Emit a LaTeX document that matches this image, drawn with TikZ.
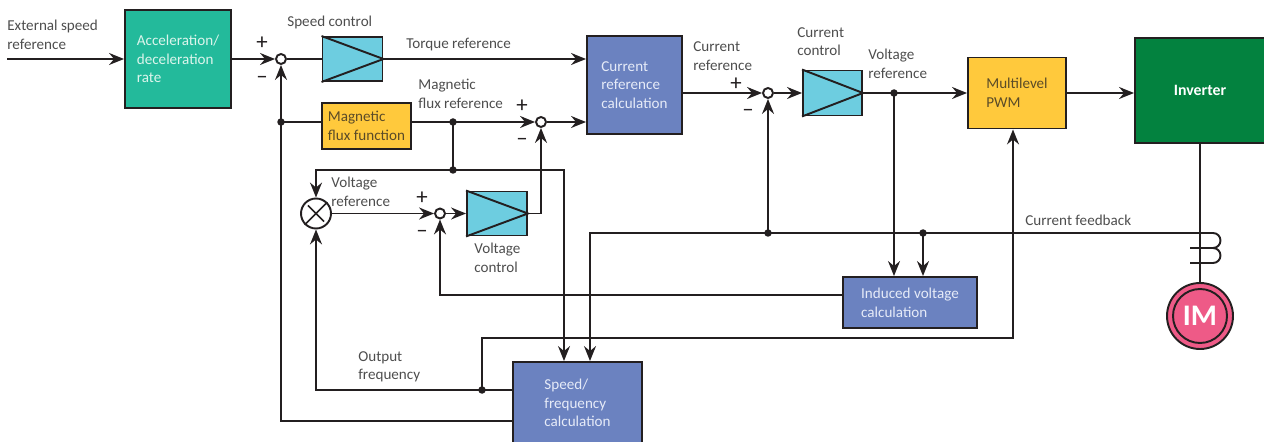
\documentclass[tikz,border=0pt]{standalone}
\usepackage{fontspec}
\setmainfont{Carlito}
\usetikzlibrary{arrows.meta,positioning,shapes}
\definecolor{accgreen}{RGB}{35,186,155}
\definecolor{acctext}{RGB}{220,245,236}
\definecolor{ctrlcyan}{RGB}{109,205,224}
\definecolor{fluxyellow}{RGB}{255,201,60}
\definecolor{fluxtext}{RGB}{90,75,40}
\definecolor{calcblue}{RGB}{107,130,192}
\definecolor{calctext}{RGB}{230,235,248}
\definecolor{invgreen}{RGB}{3,130,63}
\definecolor{impink}{RGB}{238,90,135}
\definecolor{wire}{RGB}{35,31,32}
\definecolor{labelgray}{RGB}{77,77,77}

\begin{document}
\begin{tikzpicture}[
  every node/.style={font=\fontsize{8.6}{10.6}\selectfont},
  line/.style={draw=wire,line width=1.1pt},
  arr/.style={line,-{Stealth[length=8.5pt,width=6.8pt,inset=2.8pt]}},
  blk/.style={draw=wire,line width=1.1pt,rectangle,align=left,inner sep=0pt},
  accbox/.style={blk,fill=accgreen,text=acctext},
  ctrlbox/.style={blk,fill=ctrlcyan,minimum width=1.2cm,minimum height=0.88cm},
  fluxbox/.style={blk,fill=fluxyellow,text=fluxtext},
  calcbox/.style={blk,fill=calcblue,text=calctext},
  sum/.style={circle,draw=wire,line width=1.1pt,fill=white,minimum size=0.2cm,inner sep=0pt},
  dot/.style={circle,fill=wire,minimum size=0.15cm,inner sep=0pt},
  lab/.style={text=labelgray,align=left,inner sep=0pt,anchor=west},
  sgn/.style={text=wire,inner sep=0pt,font=\fontsize{13}{13}\selectfont}
]
\useasboundingbox (0,0) rectangle (25.28,-8.84);

% blocks
\node[accbox,minimum width=2.12cm,minimum height=1.96cm] (acc) at (3.56,-1.18) {Acceleration/\\deceleration\\rate};
\node[ctrlbox] (spd) at (7.05,-1.18) {};
\node[fluxbox,minimum width=1.78cm,minimum height=0.92cm] (flux) at (7.33,-2.52) {Magnetic\\flux function};
\node[calcbox,minimum width=1.9cm,minimum height=1.96cm] (crc) at (12.69,-1.70) {Current\\reference\\calculation};
\node[ctrlbox] (vc) at (9.94,-4.27) {};
\node[ctrlbox,minimum width=1.18cm,minimum height=0.9cm] (cc) at (16.65,-1.86) {};
\node[fluxbox,minimum width=1.96cm,minimum height=1.42cm] (pwm) at (20.34,-1.86) {Multilevel\\PWM};
\node[blk,fill=invgreen,text=white,font=\fontsize{9}{11}\selectfont\bfseries,minimum width=2.6cm,minimum height=2.1cm] (inv) at (24.0,-1.81) {Inverter};
\node[calcbox,minimum width=2.68cm,minimum height=1.02cm] (ivc) at (18.2,-6.05) {Induced voltage\\calculation};
\node[calcbox,minimum width=2.58cm,minimum height=1.64cm] (sfc) at (11.55,-8.06) {Speed/\\frequency\\calculation};
\node[circle,draw=wire,line width=1.1pt,fill=impink,minimum size=1.32cm,inner sep=0pt] (im) at (24.0,-6.32) {};
\draw[line] (im) circle (0.54);
\node[text=white,font=\fontsize{17}{17}\selectfont\bfseries] (imlab) at (im) {IM};

\foreach \b in {spd,vc,cc}
  \draw[line] (\b.north west) -- (\b.east) -- (\b.south west);

% junctions
\node[sum] (s1) at (5.62,-1.18) {};
\node[sum] (s2) at (10.82,-2.44) {};
\node[sum] (s3) at (8.80,-4.27) {};
\node[sum] (s4) at (15.36,-1.86) {};
\node[circle,draw=wire,line width=1.1pt,fill=white,minimum size=0.6cm,inner sep=0pt] (mult) at (6.32,-4.27) {};
\draw[line,line width=0.9pt,shorten >=0.09cm,shorten <=0.09cm] (mult.45) -- (mult.225) (mult.135) -- (mult.315);
\coordinate (ext) at (0.14,-1.18);
\coordinate (cs) at (24.26,-4.66);
\coordinate (fb) at (20.26,-6.76);

% connectors
\draw[arr] (ext) -- (acc.west);
\draw[arr] (acc) -- (s1);
\draw[line] (s1) -- (spd);
\draw[arr] (spd.east) -- (spd.east -| crc.west);
\draw[arr] ([yshift=-0.36cm]sfc.west) -| (s1);
\draw[line] (5.62,-2.44) -- (5.62,-2.44 -| flux.west);
\draw[arr] (9.06,-2.44 -| flux.east) -- (s2);
\draw[arr] (s2) -- (s2 -| crc.west);
\draw[line] (9.06,-2.44) -- (9.06,-3.40);
\draw[arr] (9.06,-3.40) -| (mult);
\draw[arr] (9.06,-3.40) -| ([xshift=-0.27cm]sfc.north);
\draw[arr] (mult) -- (s3);
\draw[arr] (s3) -- (vc);
\draw[arr] (vc.east) -| (s2);
\draw[arr] ([yshift=0.15cm]ivc.west) -| (s3);
\draw[arr] ([yshift=0.26cm]sfc.west) -| (mult);
\draw[arr] (9.64,-7.80) |- (fb) -- (fb |- pwm.south);
\draw[arr] (crc.east |- s4) -- (s4);
\draw[arr] (s4) -- (cc);
\draw[arr] (cc) -- (pwm);
\draw[arr] (17.88,-1.86) -- (17.88,-1.86 |- ivc.north);
\draw[arr] (pwm.east) -- (pwm.east -| inv.west);
\draw[line] (inv) -- (im);
\draw[arr] (cs) -| ([xshift=0.25cm]sfc.north);
\draw[arr] (15.36,-4.66) -- (s4);
\draw[arr] (18.46,-4.66) -- (18.46,-4.66 |- ivc.north);
\draw[line] (cs) arc[start angle=90,end angle=-90,radius=0.15] -- ++(-0.46,0)
  ++(0.46,0) arc[start angle=90,end angle=-90,radius=0.15] -- ++(-0.46,0);

% dots
\node[dot] (d1) at (5.62,-2.44) {};
\node[dot] (d2) at (9.06,-2.44) {};
\node[dot] (d3) at (9.06,-3.40) {};
\node[dot] (d4) at (9.64,-7.80) {};
\node[dot] (d5) at (17.88,-1.86) {};
\node[dot] (d6) at (15.36,-4.66) {};
\node[dot] (d7) at (18.46,-4.66) {};

% labels
\node[lab] (extlab) at (0.14,-0.7) {External speed\\reference};
\node[lab] (spdlab) at (5.74,-0.44) {Speed control};
\node[lab] (torqlab) at (8.12,-0.9) {Torque reference};
\node[lab] (fluxlab) at (8.36,-1.88) {Magnetic\\flux reference};
\node[lab] (vref1) at (6.62,-3.84) {Voltage\\reference};
\node[lab] (vclab) at (9.48,-5.16) {Voltage\\control};
\node[lab] (outlab) at (7.16,-7.34) {Output\\frequency};
\node[lab] (creflab) at (13.86,-1.12) {Current\\reference};
\node[lab] (cclab) at (15.94,-0.83) {Current\\control};
\node[lab] (vref2) at (17.36,-1.27) {Voltage\\reference};
\node[lab] (fblab) at (20.5,-4.4) {Current feedback};

% signs
\node[sgn] (p1) at (5.24,-0.86) {+};
\node[sgn] (m1) at (5.24,-1.60) {--};
\node[sgn] (p2) at (10.44,-2.12) {+};
\node[sgn] (m2) at (10.44,-2.84) {--};
\node[sgn] (p3) at (8.44,-3.96) {+};
\node[sgn] (m3) at (8.44,-4.68) {--};
\node[sgn] (p4) at (14.72,-1.68) {+};
\node[sgn] (m4) at (14.96,-2.26) {--};
\end{tikzpicture}
\end{document}
